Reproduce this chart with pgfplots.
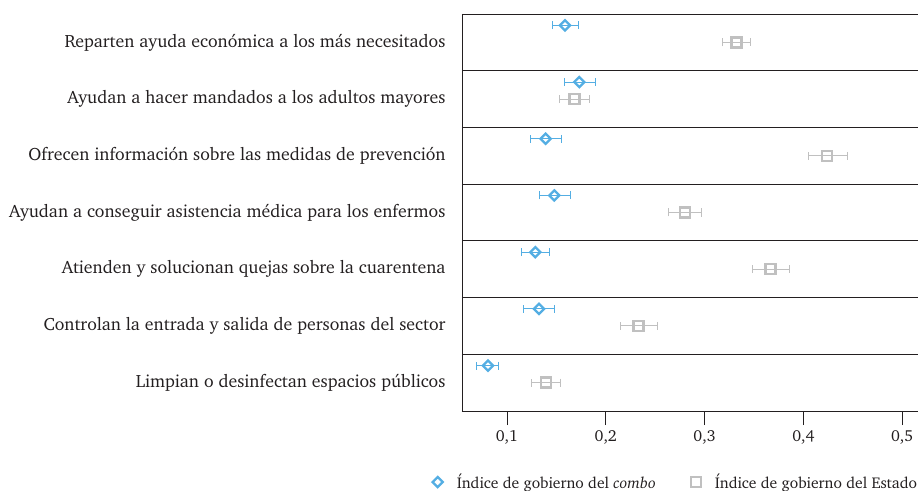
\documentclass[border=0pt]{standalone}
\usepackage[T1]{fontenc}
\renewcommand{\rmdefault}{bch}
\usepackage{pgfplots}
\usepackage{pgfplotstable}
\pgfplotsset{compat=1.18}
\definecolor{cblue}{RGB}{84,174,227}
\definecolor{cgray}{RGB}{192,192,192}
\definecolor{txt}{RGB}{35,31,32}

\pgfplotstableread{
y x ep em
0.70 0.1587 0.0135 0.0128
1.70 0.1732 0.0162 0.0152
2.70 0.1391 0.0162 0.0151
3.70 0.1479 0.0162 0.0152
4.70 0.1287 0.0141 0.0139
5.70 0.1324 0.0159 0.0159
6.70 0.0808 0.0111 0.0119
}\combo

\pgfplotstableread{
y x ep em
1 0.3325 0.0135 0.0139
2 0.1685 0.0152 0.0152
3 0.4242 0.0206 0.0192
4 0.2802 0.0168 0.0169
5 0.3668 0.0196 0.0182
6 0.2333 0.0188 0.0186
7 0.1395 0.0145 0.0145
}\estado

\begin{document}
\fontsize{16}{19}\selectfont
\begin{tikzpicture}
\begin{axis}[name=ax, scale only axis, width=456pt, height=397pt,
 xmin=0.0545, xmax=0.516, ymin=0.5, ymax=7.5, y dir=reverse,
 axis x line=bottom, axis y line=left,
 axis line style={-, line width=0.9pt, color=txt},
 tick align=outside, major tick length=14pt,
 xtick={0.1,0.2,0.3,0.4,0.5},
 xticklabels={{0,1},{0,2},{0,3},{0,4},{0,5}},
 xtick style={line width=0.8pt, color=txt},
 ytick={1,2,3,4,5,6,7},
 yticklabels={Reparten ayuda econ\'omica a los m\'as necesitados,
   Ayudan a hacer mandados a los adultos mayores,
   Ofrecen informaci\'on sobre las medidas de prevenci\'on,
   Ayudan a conseguir asistencia m\'edica para los enfermos,
   Atienden y solucionan quejas sobre la cuarentena,
   Controlan la entrada y salida de personas del sector,
   Limpian o desinfectan espacios p\'ublicos},
 ytick style={draw=none},
 extra y ticks={0.5,1.5,2.5,3.5,4.5,5.5,6.5,7.5},
 extra y tick labels={},
 extra y tick style={grid=major, major grid style={line width=0.8pt, color=txt},
   tick style={draw=txt, line width=0.8pt}},
 xticklabel style={font=\fontsize{16}{19}\selectfont, text=txt},
 yticklabel style={font=\fontsize{17.8}{21}\selectfont, text=txt, xshift=3pt},
 legend style={draw=none, at={(0.469,-0.179)}, anchor=center, legend columns=2,
   font=\fontsize{15.6}{19}\selectfont, text=txt,
   /tikz/every odd column/.append style={column sep=12pt},
   /tikz/every even column/.append style={column sep=33pt}},
 clip=false,
]
\addplot[only marks, color=cblue, mark=square, mark size=3.6pt,
  mark options={rotate=45, line width=2.3pt, fill=none},
  error bars/.cd, x dir=both, x explicit,
  error bar style={line width=1pt, color=cblue},
  error mark options={rotate=90, line width=1pt, mark size=4pt, color=cblue}]
  table[x=x, y=y, x error plus=ep, x error minus=em]{\combo};
\addlegendentry{\'Indice de gobierno del \textit{combo}}
\addplot[only marks, color=cgray, mark=square, mark size=5pt,
  mark options={line width=2.4pt, fill=none},
  error bars/.cd, x dir=both, x explicit,
  error bar style={line width=1pt, color=cgray},
  error mark options={rotate=90, line width=1pt, mark size=4pt, color=cgray}]
  table[x=x, y=y, x error plus=ep, x error minus=em]{\estado};
\addlegendentry{\'Indice de gobierno del Estado}
\end{axis}
\path (ax.north east) ++(0pt,14pt) coordinate (ne);
\path (ax.south west) ++(-462pt,-80pt) coordinate (sw);
\pgfresetboundingbox
\path[use as bounding box] (sw) rectangle (ne);
\end{tikzpicture}
\end{document}
